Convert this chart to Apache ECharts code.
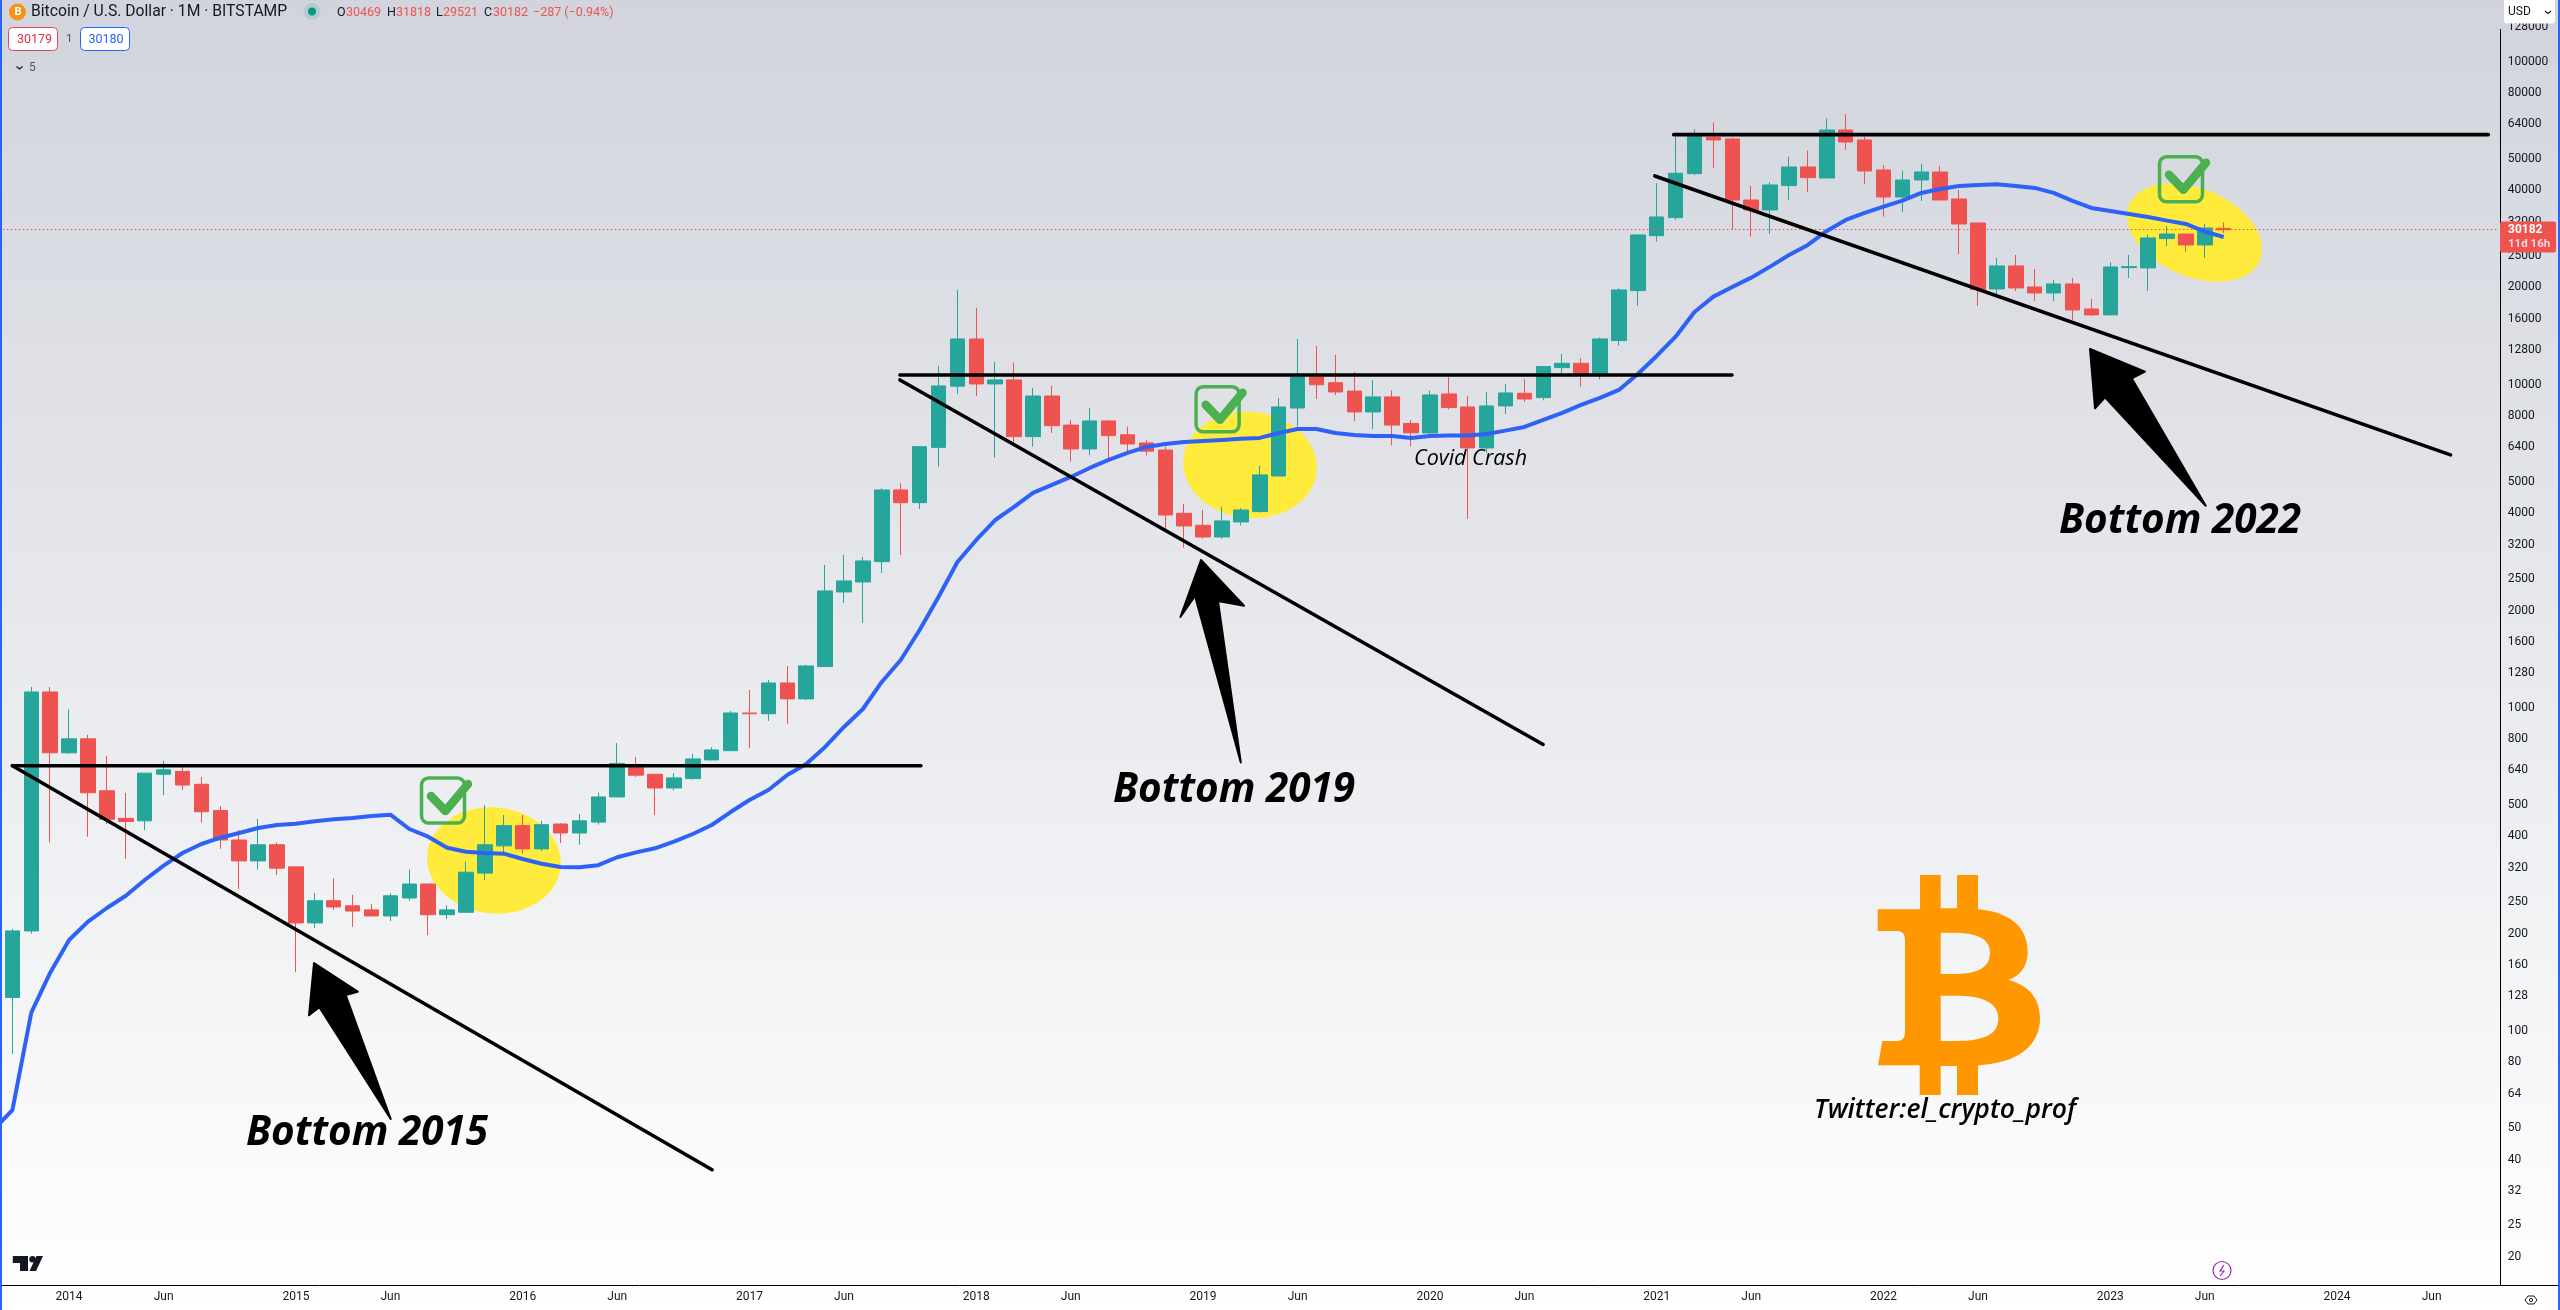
<!DOCTYPE html>
<html><head><meta charset="utf-8">
<style>html,body{margin:0;padding:0;background:#fff}#c{width:2560px;height:1310px}</style>
<script src="https://cdn.jsdelivr.net/npm/echarts@6/dist/echarts.min.js"></script>
</head><body><div id="c"></div>
<script>
// Monthly candles, Oct 2013 .. Jul 2023
const opens=[127,204,1120,726,802,554,455,447,623,636,580,481,390,336,377,322,216,253,244,237,227,258,285,229,233,308,374,432,366,437,410,443,530,655,623,565,604,690,737,964,959,1194,1066,1342,2284,2453,2835,4725,4316,6400,9900,13860,10058,10350,6910,9230,7500,6328,7727,7000,6607,6280,4000,3672,3380,3762,4050,5220,8472,10570,10150,9560,8239,9170,7590,7093,9365,8537,6374,8599,9410,9125,11300,11650,10850,13700,19560,28940,32900,45030,58320,57640,37310,34750,41330,47200,43650,61450,57230,46210,38120,43030,45550,37580,31670,19790,23320,20070,19230,20510,17160,16450,23040,22990,28330,29280,27080,30469];
const highs=[207,1160,1160,990,825,710,546,628,686,656,611,497,419,453,383,322,267,297,264,247,267,316,285,245,334,500,466,466,447,440,469,546,778,705,623,628,720,755,979,1136,1220,1348,1358,2769,2974,2931,4780,4955,6450,11430,19650,17290,11770,11720,9772,9915,7780,8472,7780,7420,6750,6430,4276,4096,4188,4150,5608,9104,13860,13180,12367,10955,10350,9600,7780,9590,10546,9233,9500,10057,10396,11400,12452,12080,14000,19880,29300,42020,58600,61740,64900,58320,41230,42320,50820,53030,66780,68880,58600,47890,45990,48230,47550,40070,31670,24680,25220,22820,21100,21410,18420,23930,25220,29140,31000,29280,31450,31818];
const lows=[85,200,383,720,399,437,341,419,537,557,441,366,275,316,304,152,208,237,210,227,219,253,198,222,233,293,355,354,360,382,377,435,530,611,466,555,600,688,737,752,911,892,1058,1342,2112,1832,2616,2972,4127,5579,9364,9230,5948,6607,6434,7093,5783,6045,5935,6209,6045,3560,3133,3340,3340,3672,4020,5200,7420,9040,9300,7727,7300,6500,6440,7000,8397,3843,6165,8122,8850,8950,10850,9866,10396,13220,17570,27730,32360,44500,46760,30140,28730,29280,37310,39500,43650,53290,41820,33130,34250,37050,37310,25400,17530,19090,19510,18160,18160,15870,16330,16450,21410,19510,26890,25760,24680,29521];
const closes=[204,1120,726,802,546,452,445,628,643,577,477,390,336,377,319,216,253,242,235,227,262,285,229,237,310,377,432,366,435,410,447,530,673,619,565,607,695,741,964,959,1194,1066,1348,2301,2471,2849,4725,4316,6434,9915,13860,10058,10350,6910,9230,7472,6328,7727,6958,6560,6230,3953,3656,3380,3789,4096,5260,8537,10570,10000,9500,8239,9170,7500,7100,9299,8497,6374,8599,9434,9033,11380,11650,10850,13860,19650,29080,33050,45130,58600,57230,37310,34750,41530,47200,43750,61450,56410,45880,38120,43030,45550,37310,31450,19740,23320,19930,19230,20510,17040,16450,23150,23210,28470,29280,27080,30560,30182];
// Blue moving average, one value per candle
const maValues=[56.9,113.9,151.5,191.2,217.9,240.2,262.2,293.2,324.7,355.5,379,396.4,409.9,424.8,434,438,445.6,452,456.2,462.8,467,421.7,399.2,369.2,358.8,355.5,353.7,340.6,329.4,321.7,321,326,344.8,357,367.6,385.3,407,434,476,518.6,556.9,619.7,670.3,756.9,872.7,992,1202.6,1406.6,1741.8,2204,2828,3308,3814,4186,4625,4897,5184,5527,5851,6150,6419,6559,6654,6699,6747,6811,6845,7093,7297,7297,7093,6993,6943,6943,6845,6943,6960,6960,7043,7210,7403,7782,8181,8660,9103,9637,10799,12278,14085,16799,18736,20074,21452,23202,25212,27078,29923,32364,34021,35581,37135,39231,40363,41233,41531,41741,41233,40654,39231,37055,35252,34506,33778,33062,32203,31457,29774,28669];
const maLeadIn=[-0.66,51.9];
// Hand-drawn trend lines as [candle index, price] end points
const resistance2014=[[0,662],[48.07,662]];
const support2015=[[0,662],[37.02,37.2]];
const resistance2018=[[46.96,10723],[90.98,10723]];
const support2019=[[46.96,10348],[80.99,770.4]];
const resistance2021=[[87.9,59440],[131,59440]];
const support2022=[[86.9,44276],[129,6065]];
const lastPrice=30182;
const priceTicks=[128000,100000,80000,64000,50000,40000,32000,25000,20000,16000,12800,10000,8000,6400,5000,4000,3200,2500,2000,1600,1280,1000,800,640,500,400,320,250,200,160,128,100,80,64,50,40,32,25,20];
const monthCount=132, firstYear=2013, firstMonth=10;
const categories=[];
for(let i=0;i<monthCount;i++){const m=firstMonth-1+i;categories.push((firstYear+Math.floor(m/12))+'-'+String(m%12+1).padStart(2,'0'));}

const UP='#26a69a',DOWN='#ef5350',INK='#131722',BLUE='#2e62f6',YEL='#ffeb3b',GRN='#4caf50';
const chart=echarts.init(document.getElementById('c'),null,{renderer:'canvas',width:2560,height:1310});

function T(text,x,y,font,fill,o){return {type:'text',z:(o&&o.z)||20,silent:true,style:Object.assign({text,x,y,font,fill,textAlign:'left',textVerticalAlign:'middle'},o||{})};}
function check(dx,dy){return [
  {type:'rect',z:8,silent:true,shape:{x:421.5+dx,y:778+dy,width:43,height:45,r:7},style:{fill:'none',stroke:GRN,lineWidth:3.5}},
  {type:'polyline',z:9,silent:true,shape:{points:[[431+dx,796+dy],[445.4+dx,811+dy],[468+dx,784+dy]]},style:{fill:'none',stroke:GRN,lineWidth:8.5,lineCap:'round',lineJoin:'round'}}
];}
function arrow(p){return {type:'polygon',z:9,silent:true,shape:{points:p},style:{fill:'#000',stroke:'#000',lineWidth:2,lineJoin:'round'}};}
function ell(cx,cy,rx,ry,rot){return {type:'ellipse',z:1,silent:true,x:cx,y:cy,rotation:rot||0,shape:{cx:0,cy:0,rx,ry},style:{fill:YEL}};}

const graphics=[
  {type:'rect',z:30,silent:true,shape:{x:0,y:0,width:2,height:1310},style:{fill:'#2962ff'}},
  {type:'rect',z:30,silent:true,shape:{x:2558,y:0,width:2,height:1310},style:{fill:'#2962ff'}},
  {type:'line',z:15,silent:true,shape:{x1:2500.5,y1:29,x2:2500.5,y2:1285},style:{stroke:'#000',lineWidth:1}},
  {type:'line',z:15,silent:true,shape:{x1:0,y1:1285.5,x2:2558,y2:1285.5},style:{stroke:'#000',lineWidth:1}},
  ell(494,860.5,67,53,-0.1), ell(1250,465,67,53,-0.1), ell(2194.5,232.5,71,44,-0.4),
  ...check(0,0),...check(774.6,-391.3),...check(1738,-621.3),
  arrow([[314,963],[357.7,991.7],[345.7,995],[390.7,1119],[319.3,1007.3],[309,1015.3]]),
  arrow([[1201,560],[1244,605.7],[1218,601],[1240.8,762.5],[1195,596],[1180.4,617]]),
  arrow([[2090,349],[2145,371.7],[2131.7,378.3],[2205.7,505.7],[2105,397.3],[2095,408.3]]),
  T('Bottom 2015',246,1133,'italic bold 40.5px "Open Sans"','#000'),
  T('Bottom 2019',1113,790,'italic bold 40.5px "Open Sans"','#000'),
  T('Bottom 2022',2059,521,'italic bold 40.5px "Open Sans"','#000'),
  T('Covid Crash',1414,459,'italic 21.5px "Open Sans"','#000'),
  T('Twitter:el_crypto_prof',1814,1110,'italic 600 26.5px "Open Sans"','#000'),
  // header
  {type:'circle',z:20,silent:true,shape:{cx:17.5,cy:12,r:8.5},style:{fill:'#f7931a'}},
  T('B',14.5,12.5,'bold 11px Roboto','#fff'),
  T('Bitcoin / U.S. Dollar · 1M · BITSTAMP',31,12,'15.7px Roboto',INK),
  {type:'circle',z:20,silent:true,shape:{cx:312,cy:11.5,r:8.5},style:{fill:'rgba(8,153,129,0.14)'}},
  {type:'circle',z:21,silent:true,shape:{cx:312,cy:11.5,r:4},style:{fill:'#089981'}},
  T('O',337,12.5,'12.5px Roboto',INK),T('30469',346,12.5,'12.5px Roboto',DOWN),
  T('H',387,12.5,'12.5px Roboto',INK),T('31818',396,12.5,'12.5px Roboto',DOWN),
  T('L',436,12.5,'12.5px Roboto',INK),T('29521',443,12.5,'12.5px Roboto',DOWN),
  T('C',484,12.5,'12.5px Roboto',INK),T('30182',493,12.5,'12.5px Roboto',DOWN),
  T('−287 (−0.94%)',533,12.5,'12.5px Roboto',DOWN),
  {type:'rect',z:20,silent:true,shape:{x:8.5,y:27.5,width:49,height:23,r:4},style:{fill:'#fff',stroke:'#e0455a',lineWidth:1}},
  T('30179',17,39.5,'12.5px Roboto','#e0304a'),
  T('1',66,39.5,'11.5px Roboto','#50535e'),
  {type:'rect',z:20,silent:true,shape:{x:80.5,y:27.5,width:49,height:23,r:4},style:{fill:'#fff',stroke:'#2962ff',lineWidth:1}},
  T('30180',88.5,39.5,'12.5px Roboto','#2962ff'),
  {type:'polyline',z:20,silent:true,shape:{points:[[16.5,66.5],[19.5,69],[22.5,66.5]]},style:{fill:'none',stroke:INK,lineWidth:1.2}},
  T('5',29,68,'12px Roboto','#50535e'),
  // USD selector
  {type:'rect',z:25,silent:true,shape:{x:2504,y:0,width:51,height:23.5,r:[0,0,3,3]},style:{fill:'#fff'}},
  T('USD',2508,12,'12px Roboto',INK,{z:26}),
  {type:'polyline',z:26,silent:true,shape:{points:[[2545,11],[2548,13.5],[2551,11]]},style:{fill:'none',stroke:INK,lineWidth:1.2}},
  // last price tag
  {type:'rect',z:25,silent:true,shape:{x:2500,y:221.5,width:56,height:31,r:2},style:{fill:DOWN}},
  T('30182',2508,230,'bold 12px Roboto','#fff',{z:26}),
  T('11d 16h',2508,244.5,'bold 11.5px Roboto','#ffd6d6',{z:26}),
  // corner marks
  {type:'polygon',z:20,silent:true,shape:{points:[[12.8,1256],[28,1256],[28,1271],[20,1271],[20,1263],[12.8,1263]]},style:{fill:INK}},
  {type:'circle',z:20,silent:true,shape:{cx:32.5,cy:1259.3,r:3.2},style:{fill:INK}},
  {type:'polygon',z:20,silent:true,shape:{points:[[36.5,1256],[43,1256],[36,1271],[29.5,1271]]},style:{fill:INK}},
  {type:'circle',z:20,silent:true,shape:{cx:2222,cy:1270.5,r:9},style:{fill:'rgba(255,255,255,0.6)',stroke:'#9c27b0',lineWidth:1.2}},
  {type:'polyline',z:20,silent:true,shape:{points:[[2224,1265],[2220,1271],[2224,1271],[2220,1276]]},style:{fill:'none',stroke:'#9c27b0',lineWidth:1.2}},
  {type:'polygon',z:20,silent:true,shape:{points:[[2525,1300],[2528,1296],[2534,1296],[2537,1300],[2534,1304],[2528,1304]]},style:{fill:'none',stroke:INK,lineWidth:1}},
  {type:'circle',z:20,silent:true,shape:{cx:2531,cy:1300,r:1.6},style:{fill:'none',stroke:INK,lineWidth:1}}
];

const btcPath='M353,178 L480,178 L480,75 L542,75 L542,175 L591,175 L591,75 L654,75 L654,178 C740,185 803,225 803,305 C803,345 785,375 745,390 C805,405 840,445 840,505 C840,590 770,640 654,646 L654,735 L591,735 L591,648 L542,648 L542,735 L479,735 L479,646 L354,646 L367,573 L410,573 C425,573 435,565 435,545 L435,270 C435,250 425,243 410,243 L353,243 Z M542,248 L542,372 L575,372 C640,372 690,360 690,308 C690,255 630,248 575,248 Z M542,437 L542,573 L590,573 C660,573 715,560 715,505 C715,450 650,437 590,437 Z';

function trend(data){return {type:'line',xAxisIndex:1,yAxisIndex:0,data,symbol:'none',z:6,silent:true,clip:false,lineStyle:{color:'#000',width:3.6,cap:'round'}};}

chart.setOption({
  animation:false,
  backgroundColor:new echarts.graphic.LinearGradient(0,0,0,1,[{offset:0,color:'#d1d4dc'},{offset:1,color:'#ffffff'}]),
  grid:{left:2.95,top:23,width:2494.8,height:1262,containLabel:false},
  xAxis:[
    {type:'category',data:categories,boundaryGap:true,axisLine:{show:false},axisTick:{show:false},splitLine:{show:false},
     axisLabel:{color:INK,fontFamily:'Roboto',fontSize:12,margin:6,hideOverlap:false,
       interval:(i,v)=>v.endsWith('-01')||v.endsWith('-06'),
       formatter:v=>v.endsWith('-01')?v.slice(0,4):'Jun'}},
    {type:'value',min:-0.5,max:monthCount-0.5,show:false}
  ],
  yAxis:[{type:'log',logBase:10,position:'right',min:16.36,max:131700,axisLine:{show:false},axisTick:{show:false},splitLine:{show:false},
    axisLabel:{color:INK,fontFamily:'Roboto',fontSize:12,margin:10,customValues:priceTicks,formatter:v=>String(Math.round(v)),hideOverlap:false,showMinLabel:true,showMaxLabel:true}}],
  graphic:{elements:graphics},
  series:[
    {type:'candlestick',name:'BTCUSD',xAxisIndex:0,yAxisIndex:0,barWidth:15,z:3,silent:true,
     itemStyle:{color:UP,color0:DOWN,borderColor:UP,borderColor0:DOWN,borderWidth:1},
     data:categories.slice(0,closes.length).map((_,i)=>[opens[i],closes[i],lows[i],highs[i]]),
     markLine:{silent:true,symbol:'none',animation:false,label:{show:false},lineStyle:{color:DOWN,type:[1.5,2.5],width:1},data:[{yAxis:lastPrice}]}},
    {type:'line',name:'MA',xAxisIndex:1,yAxisIndex:0,symbol:'none',z:5,silent:true,clip:false,lineStyle:{color:BLUE,width:4,join:'round'},
     data:[maLeadIn].concat(maValues.map((v,i)=>[i,v]))},
    trend(resistance2014),trend(support2015),trend(resistance2018),trend(support2019),trend(resistance2021),trend(support2022),
    {type:'custom',coordinateSystem:'none',silent:true,z:7,data:[0],
     renderItem:()=>({type:'path',shape:{pathData:btcPath,x:1877.7,y:875,width:162.3,height:220,layout:'cover'},style:{fill:'#ff9800'}})}
  ]
});
</script></body></html>
